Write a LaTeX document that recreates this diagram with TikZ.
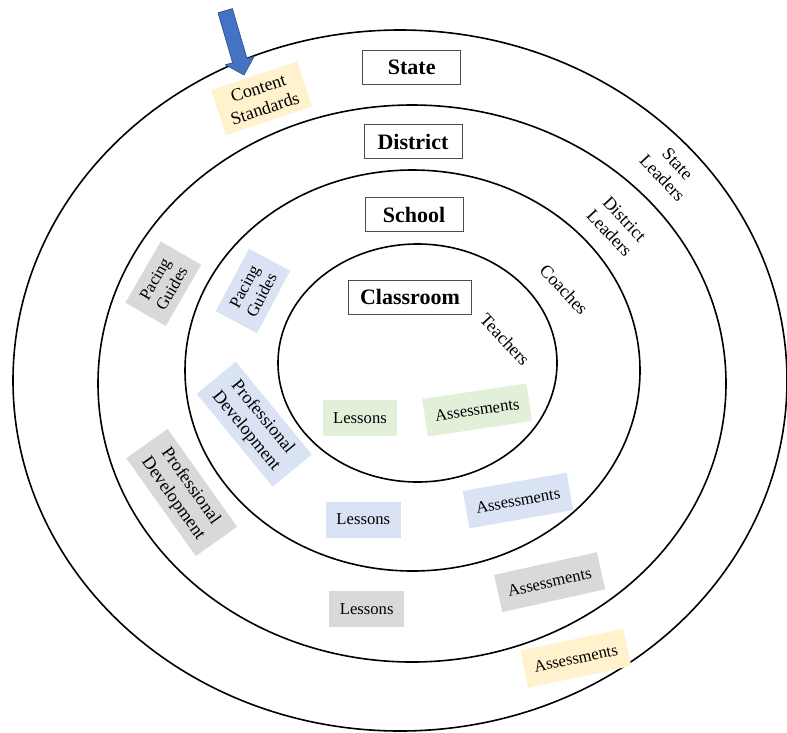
\documentclass[tikz,border=0pt]{standalone}
\usepackage{fontspec}
\setmainfont{Liberation Serif}
\usetikzlibrary{positioning}

\tikzset{
  ring/.style={line width=1.2pt},
  levelbox/.style={draw=black!70, line width=0.7pt, fill=white,
    font=\fontsize{16.5}{19}\selectfont\bfseries,
    minimum width=73.5pt, minimum height=26pt, inner xsep=8.5pt},
  tagbox/.style={fill=#1, align=center, inner sep=0pt},
  rolelabel/.style={align=center, font=\fontsize{13.5}{15.5}\selectfont, rotate=-47}
}

\begin{document}
\begin{tikzpicture}[x=0.75pt,y=-0.75pt]
\definecolor{stateyellow}{HTML}{FFF2CC}
\definecolor{districtgrey}{HTML}{D9D9D9}
\definecolor{schoolblue}{HTML}{DAE3F3}
\definecolor{classgreen}{HTML}{E2F0D9}
\definecolor{arrowblue}{HTML}{4472C4}
\definecolor{arrowedge}{HTML}{2F528F}

\useasboundingbox (0,0) rectangle (787,732);

% rings, outside in
\foreach \cx/\cy/\rx/\ry in {400/380.5/387/350.5, 412/383.5/314/278.5,
                             412.5/370.5/227.5/200.5, 417.5/363/139.5/119} {
  \draw[ring] (\cx,\cy) ellipse[x radius=\rx, y radius=\ry];
}

% level names
\node[levelbox] (state) at (411.7,67.5) {State};
\node[levelbox] (district) at (413,141.5) {District};
\node[levelbox] (school) at (414,214.5) {School};
\node[levelbox] (classroom) at (410,297.3) {Classroom};

% who works in each ring
\node[rolelabel] (stateleaders) at (670,171) {State\\Leaders};
\node[rolelabel] (districtleaders) at (617,226) {District\\Leaders};
\node[rolelabel] (coaches) at (564,289.5) {Coaches};
\node[rolelabel] (teachers) at (505,339.5) {Teachers};

% state ring
\node[tagbox=stateyellow, font=\fontsize{13.5}{16}\selectfont,
      minimum width=68pt, minimum height=35.5pt, rotate=18.4]
  (contentstd) at (261.7,98.3) {Content\\Standards};

\begin{scope}[shift={(244,75)}, rotate=16.3]
\filldraw[fill=arrowblue, draw=arrowedge, line width=0.5pt]
  (0,0) -- (-15,-15) -- (-7.5,-15) -- (-7.5,-67) -- (7.5,-67)
  -- (7.5,-15) -- (15,-15) -- cycle;
\end{scope}

% pacing guides and professional development
\foreach \name/\x/\y/\ang/\col in {pacingdistrict/163.3/283.7/60/districtgrey,
                                   pacingschool/253/291/62/schoolblue} {
  \node[tagbox=\col, font=\fontsize{12.5}{14.5}\selectfont,
        minimum width=53pt, minimum height=35pt, rotate=\ang]
    (\name) at (\x,\y) {Pacing\\Guides};
}
\foreach \name/\x/\y/\ang/\col in {pddistrict/181.7/492.5/-54.6/districtgrey,
                                   pdschool/254.2/424.2/-50.7/schoolblue} {
  \node[tagbox=\col, font=\fontsize{13.5}{16}\selectfont,
        minimum width=90pt, minimum height=38pt, rotate=\ang]
    (\name) at (\x,\y) {Professional\\Development};
}

% lessons and assessments
\foreach \name/\x/\y/\col in {lessonsclass/360/418/classgreen,
                              lessonsschool/363.3/519.5/schoolblue,
                              lessonsdistrict/366.7/608.7/districtgrey} {
  \node[tagbox=\col, font=\fontsize{12.5}{14}\selectfont,
        minimum width=56pt, minimum height=27pt] (\name) at (\x,\y) {Lessons};
}
\foreach \name/\x/\y/\ang/\col in {assessclass/477.1/410/8.5/classgreen,
                                   assessschool/518/500.5/10/schoolblue,
                                   assessdistrict/549.6/582.1/12.5/districtgrey,
                                   assessstate/575.8/658.3/12/stateyellow} {
  \node[tagbox=\col, font=\fontsize{12.5}{14}\selectfont,
        minimum width=79pt, minimum height=28.5pt, rotate=\ang]
    (\name) at (\x,\y) {Assessments};
}
\end{tikzpicture}
\end{document}
